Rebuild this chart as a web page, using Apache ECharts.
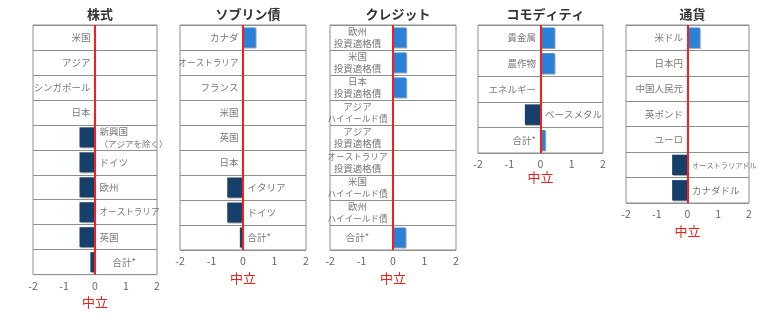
<!DOCTYPE html>
<html>
<head>
<meta charset="utf-8">
<script src="https://cdn.jsdelivr.net/npm/echarts@6/dist/echarts.min.js"></script>
<style>
  html, body { margin: 0; padding: 0; background: #fff; }
  #chart { width: 780px; height: 314px; }
</style>
</head>
<body>
<div id="chart"></div>
<script>
const fontFamily = '"Noto Sans CJK JP", sans-serif';

const titles = ['株式', 'ソブリン債', 'クレジット', 'コモディティ', '通貨'];

const eqCats = ['米国', 'アジア', 'シンガポール', '日本', '新興国\n（アジアを除く）', 'ドイツ', '欧州', 'オーストラリア', '英国', '合計*'];
const eqVals = [0, 0, 0, 0, -0.5, -0.5, -0.5, -0.5, -0.5, -0.15];

const sovCats = ['カナダ', 'オーストラリア', 'フランス', '米国', '英国', '日本', 'イタリア', 'ドイツ', '合計*'];
const sovVals = [0.4, 0, 0, 0, 0, 0, -0.5, -0.5, -0.1];

const crCats = ['欧州\n投資適格債', '米国\n投資適格債', '日本\n投資適格債', 'アジア\nハイイールド債', 'アジア\n投資適格債',
  'オーストラリア\n投資適格債', '米国\nハイイールド債', '欧州\nハイイールド債', '合計*'];
const crVals = [0.42, 0.42, 0.42, 0, 0, 0, 0, 0, 0.4];

const cmCats = ['貴金属', '農作物', 'エネルギー', 'ベースメタル', '合計*'];
const cmVals = [0.45, 0.45, 0, -0.5, 0.15];

const fxCats = ['米ドル', '日本円', '中国人民元', '英ポンド', 'ユーロ', 'オーストラリアドル', 'カナダドル'];
const fxVals = [0.4, 0, 0, 0, 0, -0.5, -0.5];

const xMin = -2, xMax = 2, xStep = 1;
const neutralLabel = '中立';

const panels = [
  { cats: eqCats, vals: eqVals, grid: { left: 33, top: 25, width: 124, height: 252 } },
  { cats: sovCats, vals: sovVals, grid: { left: 180, top: 25, width: 126, height: 225 } },
  { cats: crCats, vals: crVals, grid: { left: 330, top: 25, width: 126, height: 225 }, center: true },
  { cats: cmCats, vals: cmVals, grid: { left: 478, top: 25, width: 125, height: 128 } },
  { cats: fxCats, vals: fxVals, grid: { left: 626, top: 25, width: 123, height: 178 } }
];

const navy = '#163f69';
const blue = '#2b80d8';
const labelColor = '#555';

// long katakana names are set smaller so they fit beside the zero line
function sizeFor(line) {
  return Math.max(7.2, Math.min(9.5, 60 / line.length));
}

function buildLabel(name, center, small) {
  let lines = name.split('\n');
  let rich = {};
  let parts = lines.map((l, k) => {
    let fs = sizeFor(l);
    if (small && k > 0) fs = 8.5;
    rich['l' + k] = { fontSize: fs, color: labelColor, fontFamily: fontFamily, lineHeight: 12 };
    if (center) Object.assign(rich['l' + k], { width: 62, align: 'center' });
    return '{l' + k + '|' + l + '}';
  });
  return { formatter: parts.join('\n'), rich: rich };
}

let option = {
  animation: false,
  textStyle: { fontFamily: fontFamily },
  title: [],
  grid: [],
  xAxis: [],
  yAxis: [],
  series: []
};

panels.forEach((p, i) => {
  let g = p.grid;
  option.title.push({
    text: titles[i],
    left: g.left + g.width / 2,
    top: 3,
    textAlign: 'center',
    textStyle: { fontSize: 13, fontWeight: 'bold', color: '#333', fontFamily: fontFamily }
  });
  option.grid.push(Object.assign({ show: true, borderColor: '#8f8f8f', borderWidth: 1, backgroundColor: '#fff' }, g));
  option.xAxis.push({
    gridIndex: i,
    type: 'value',
    min: xMin, max: xMax, interval: xStep,
    axisLine: { show: false },
    axisTick: { show: false },
    splitLine: { show: false },
    axisLabel: { color: '#666', fontSize: 10.5, margin: 6, fontFamily: fontFamily },
    name: neutralLabel,
    nameLocation: 'middle',
    nameGap: 14,
    nameTextStyle: { color: '#e8201c', fontSize: 13, fontFamily: fontFamily }
  });
  option.yAxis.push({
    gridIndex: i,
    type: 'category',
    inverse: true,
    data: p.cats,
    axisLine: { show: false },
    axisTick: { show: false },
    axisLabel: { show: false },
    splitLine: { show: true, lineStyle: { color: '#8f8f8f', width: 1 } }
  });
  option.series.push({
    type: 'bar',
    xAxisIndex: i, yAxisIndex: i,
    barCategoryGap: '20%',
    data: p.vals,
    itemStyle: {
      color: params => params.value < 0 ? navy : blue,
      shadowColor: 'rgba(0,0,0,0.35)',
      shadowOffsetX: 1,
      shadowOffsetY: 1
    },
    markLine: {
      silent: true,
      symbol: 'none',
      label: { show: false },
      lineStyle: { color: '#f5201c', width: 2, type: 'solid' },
      data: [{ xAxis: 0 }]
    },
    z: 2
  });
  // category names drawn next to the zero line
  option.series.push({
    type: 'scatter',
    xAxisIndex: i, yAxisIndex: i,
    symbolSize: 1,
    itemStyle: { color: 'rgba(0,0,0,0)' },
    z: 5,
    data: p.cats.map((c, k) => {
      let neg = p.vals[k] < 0;
      let dist = 4;
      if (i === 0 && c === '合計*') dist = 17;
      let lb = buildLabel(c, p.center, i === 0);
      return {
        value: [0, c],
        label: {
          show: true,
          position: neg ? 'right' : 'left',
          distance: dist,
          formatter: lb.formatter,
          rich: lb.rich
        }
      };
    })
  });
});

let chart = echarts.init(document.getElementById('chart'));
chart.setOption(option);
</script>
</body>
</html>
